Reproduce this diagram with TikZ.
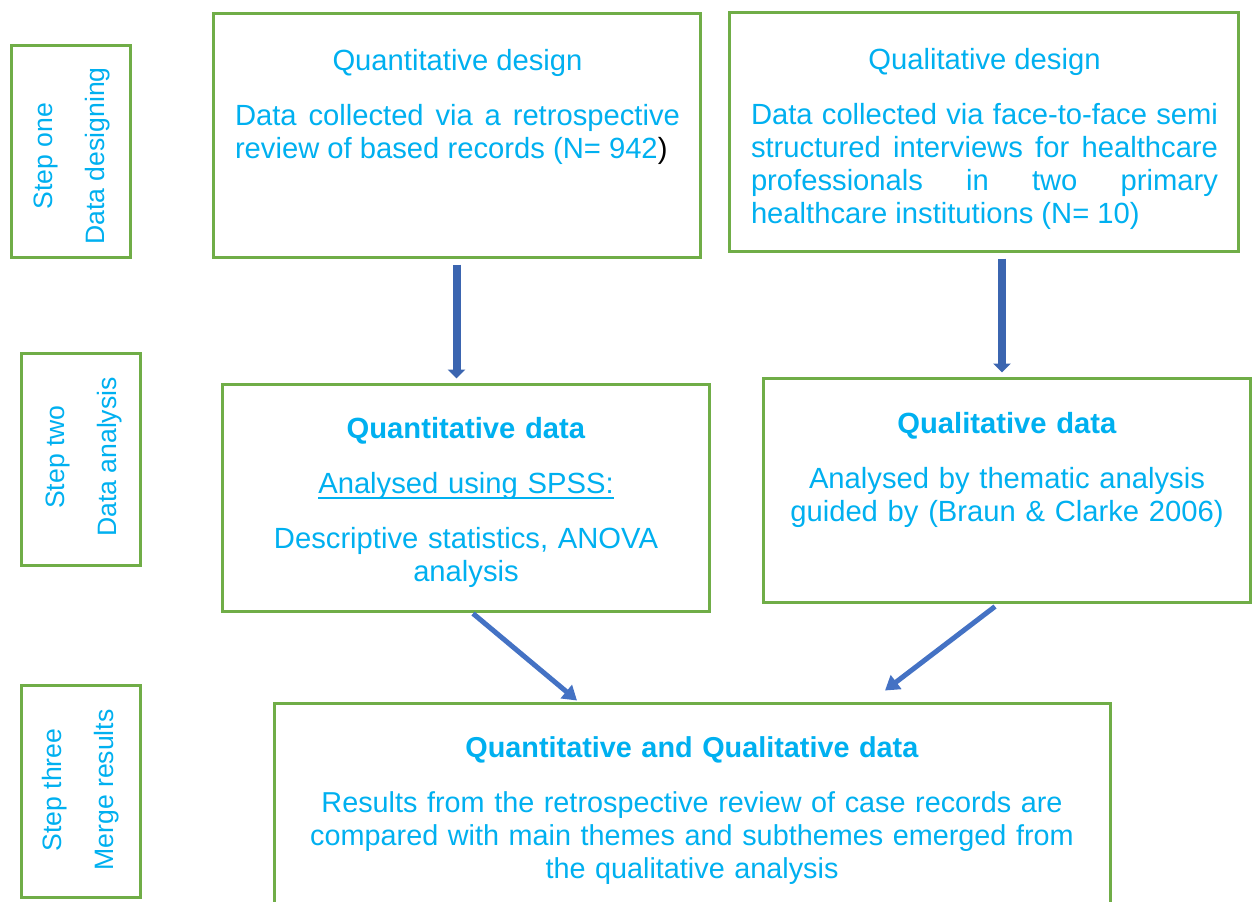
\documentclass[tikz,border=0pt]{standalone}
\usepackage{fontspec}
\setmainfont{Liberation Sans}
\usetikzlibrary{arrows.meta}
\definecolor{boxgreen}{HTML}{70AD47}
\definecolor{txtblue}{HTML}{00B0F0}
\definecolor{arrowblue}{HTML}{4472C4}
\definecolor{arrowdark}{HTML}{2F5597}
\hyphenpenalty=10000
\newcommand\underlinetxt[1]{\leavevmode\setbox0\hbox{#1}\rlap{\rule[-3pt]{\wd0}{1pt}}\box0}

\begin{document}
\begin{tikzpicture}
	[x=0.5pt,y=-0.5pt,
	box/.style={rectangle,draw=boxgreen,line width=1.5pt,fill=white,inner sep=0pt},
	stepbox/.style={box,minimum width=59.5pt,minimum height=106pt},
	txt/.style={text=txtblue,inner sep=0pt,anchor=base,font=\fontsize{14.6}{16.5}\selectfont},
	steptxt/.style={text=txtblue,inner sep=0pt,rotate=90,align=center,font=\fontsize{13.3}{26}\selectfont},
	down/.style={arrowdark!45!arrowblue,line width=4pt,-{Triangle[width=8.5pt,length=4.5pt]}},
	slant/.style={arrowblue,line width=2.5pt,-{Triangle[width=8.5pt,length=7pt]}}
	]
	\useasboundingbox (0,0) rectangle (1253,901);
	\clip (0,0) rectangle (1253,901);

	% steps on the left
	\node[stepbox] (s1) at (70.5,151){};
	\node[stepbox] (s2) at (80.5,459){};
	\node[stepbox] (s3) at (80.5,791){};
	\node[steptxt] (s1t) at (72,156){Step one\\Data designing};
	\node[steptxt] (s2t) at (84,457){Step two\\Data analysis};
	\node[steptxt] (s3t) at (81,790){Step three\\Merge results};

	% boxes
	\node[box,minimum width=243.5pt,minimum height=122pt] (qnd) at (456.5,135){};
	\node[box,minimum width=254.5pt,minimum height=119.5pt] (qld) at (983.5,131.5){};
	\node[box,minimum width=243.5pt,minimum height=113.5pt] (qnt) at (465.5,497.5){};
	\node[box,minimum width=243.5pt,minimum height=112pt] (qlt) at (1006.5,490){};
	\node[box,minimum width=418pt,minimum height=120pt] (mrg) at (692,823){};

	\node[txt,text width=222.5pt,align=justify] (qndt) at (457.5,70){{\centering Quantitative design\par}\vspace{11pt}
		Data collected via a retrospective\linebreak review of based records (N= 942{\color{black})}};
	\node[txt,text width=233.5pt,align=justify] (qldt) at (984.5,69){{\centering Qualitative design\par}\vspace{11pt}
		Data collected via face-to-face semi\linebreak structured interviews for healthcare\linebreak professionals in two primary\linebreak healthcare institutions (N= 10)};
	\node[txt,text width=235pt,align=center] (qntt) at (466,438){\textbf{Quantitative data}\\[11pt]\underlinetxt{Analysed using SPSS:}\\[11pt]Descriptive statistics, ANOVA\\analysis};
	\node[txt,text width=235pt,align=center] (qltt) at (1007,433){\textbf{Qualitative data}\\[11pt]Analysed by thematic analysis\\guided by (Braun \& Clarke 2006)};
	\node[txt,text width=410pt,align=center,font=\fontsize{14.4}{16.5}\selectfont] (mrgt) at (692,757){\textbf{Quantitative and Qualitative data}\\[11pt]Results from the retrospective review of case records are\\compared with main themes and subthemes emerged from\\the qualitative analysis};

	% arrows
	\coordinate (a1) at ([yshift=-3pt]qnd.south);
	\coordinate (a2) at ([xshift=9.25pt,yshift=-3pt]qld.south);
	\draw[down,shorten >=2pt] (a1) -- (a1 |- qnt.north);
	\draw[down,shorten >=2pt] (a2) -- (a2 |- qlt.north);
	\draw[slant] ([xshift=3.75pt,yshift=-0.5pt]qnt.south) -- ([xshift=-57.5pt,yshift=0.5pt]mrg.north);
	\draw[slant] ([xshift=-5.75pt,yshift=-1.5pt]qlt.south) -- ([xshift=96.5pt,yshift=5.5pt]mrg.north);
\end{tikzpicture}
\end{document}
